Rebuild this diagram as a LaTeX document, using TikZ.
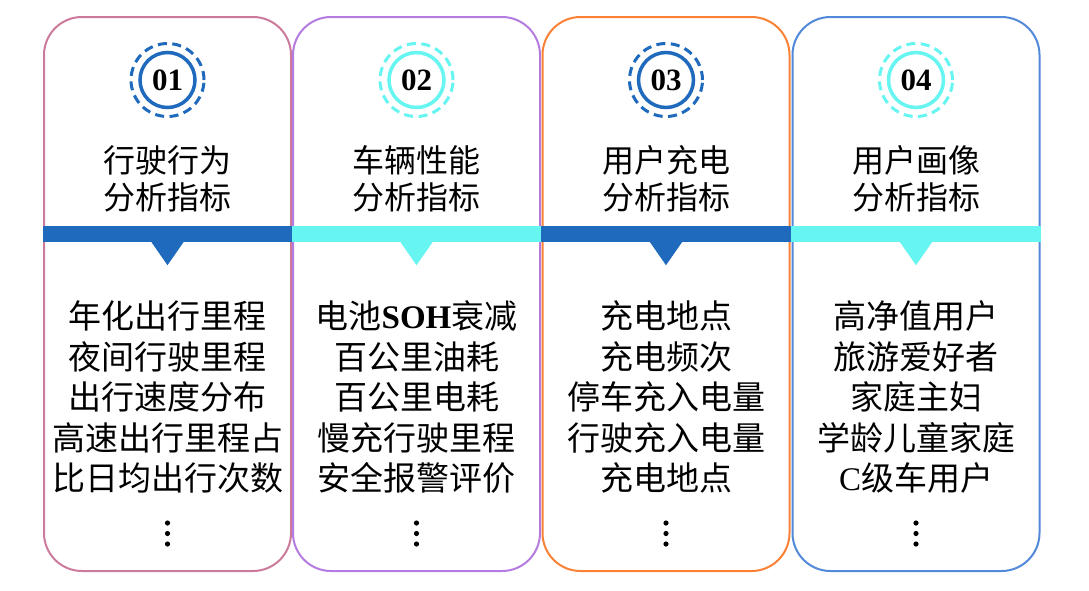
\documentclass[tikz,border=0pt]{standalone}
\usepackage{fontspec}
\setmainfont{Liberation Serif}
\newfontfamily\cjk{Noto Sans CJK SC}
\usetikzlibrary{positioning}
\definecolor{pinkline}{HTML}{CC7A9C}
\definecolor{purpleline}{HTML}{B47BE0}
\definecolor{orangeline}{HTML}{FA8236}
\definecolor{blueline}{HTML}{5289DA}
\definecolor{bandblue}{HTML}{1F6ABD}
\definecolor{bandcyan}{HTML}{66F5F0}

\begin{document}
\begin{tikzpicture}[x=1pt, y=-1pt,
    panel/.style={rectangle, draw, line width=2pt, fill=white, rounded corners=38pt,
                  minimum width=247pt, minimum height=554pt},
    band/.style={rectangle, inner sep=0pt, minimum width=249.5pt, minimum height=16pt},
    badge/.style={circle, line width=3.5pt, minimum size=55pt, inner sep=0pt,
                  font=\bfseries\fontsize{31}{31}\selectfont},
    ring/.style={line width=3pt, dash pattern=on 9pt off 5.5pt},
    title/.style={align=center, font=\cjk\fontsize{32}{37}\selectfont},
    items/.style={align=center, font=\cjk\fontsize{33}{40.5}\selectfont}
]
    \useasboundingbox (0,0) rectangle (1089,590);

    % panels
    \node[panel, draw=pinkline] (p1) at (167.5,294) {};
    \node[panel, draw=purpleline] (p2) at (416.5,294) {};
    \node[panel, draw=orangeline] (p3) at (666,294) {};
    \node[panel, draw=blueline] (p4) at (916,294) {};

    % band with pointers
    \node[band, fill=bandblue] (b1) at (167.5,234) {};
    \node[band, fill=bandcyan] (b2) at (416.5,234) {};
    \node[band, fill=bandblue] (b3) at (666,234) {};
    \node[band, fill=bandcyan] (b4) at (916,234) {};
    \fill[bandblue] (b1.south) ++(-16,0) -- ++(32,0) -- ++(-16,23) -- cycle;
    \fill[bandcyan] (b2.south) ++(-16,0) -- ++(32,0) -- ++(-16,23) -- cycle;
    \fill[bandblue] (b3.south) ++(-16,0) -- ++(32,0) -- ++(-16,23) -- cycle;
    \fill[bandcyan] (b4.south) ++(-16,0) -- ++(32,0) -- ++(-16,23) -- cycle;

    % number badges
    \node[badge, draw=bandblue] (c1) at (167.5,80) {01};
    \node[badge, draw=bandcyan] (c2) at (416.5,80) {02};
    \node[badge, draw=bandblue] (c3) at (666,80) {03};
    \node[badge, draw=bandcyan] (c4) at (916,80) {04};
    \draw[ring, bandblue] (c1.center) circle (36.5pt);
    \draw[ring, bandcyan] (c2.center) circle (36.5pt);
    \draw[ring, bandblue] (c3.center) circle (36.5pt);
    \draw[ring, bandcyan] (c4.center) circle (36.5pt);

    % titles
    \node[title] (t1) at (167.5,178.5) {行驶行为\\分析指标};
    \node[title] (t2) at (416.5,178.5) {车辆性能\\分析指标};
    \node[title] (t3) at (666,178.5) {用户充电\\分析指标};
    \node[title] (t4) at (916,178.5) {用户画像\\分析指标};

    % indicator lists
    \node[items] (l1) at (167.5,397) {年化出行里程\\夜间行驶里程\\出行速度分布\\高速出行里程占\\比日均出行次数};
    \node[items] (l2) at (416.5,397) {电池{\rmfamily\bfseries SOH}衰减\\百公里油耗\\百公里电耗\\慢充行驶里程\\安全报警评价};
    \node[items] (l3) at (666,397) {充电地点\\充电频次\\停车充入电量\\行驶充入电量\\充电地点};
    \node[items] (l4) at (916,397) {高净值用户\\旅游爱好者\\家庭主妇\\学龄儿童家庭\\{\rmfamily C}级车用户};

    % vertical dots
    \foreach \x in {167.5,416.5,666,916}
        \foreach \y in {523,533.5,544}
            \fill (\x,\y) circle (2.6pt);
\end{tikzpicture}
\end{document}
